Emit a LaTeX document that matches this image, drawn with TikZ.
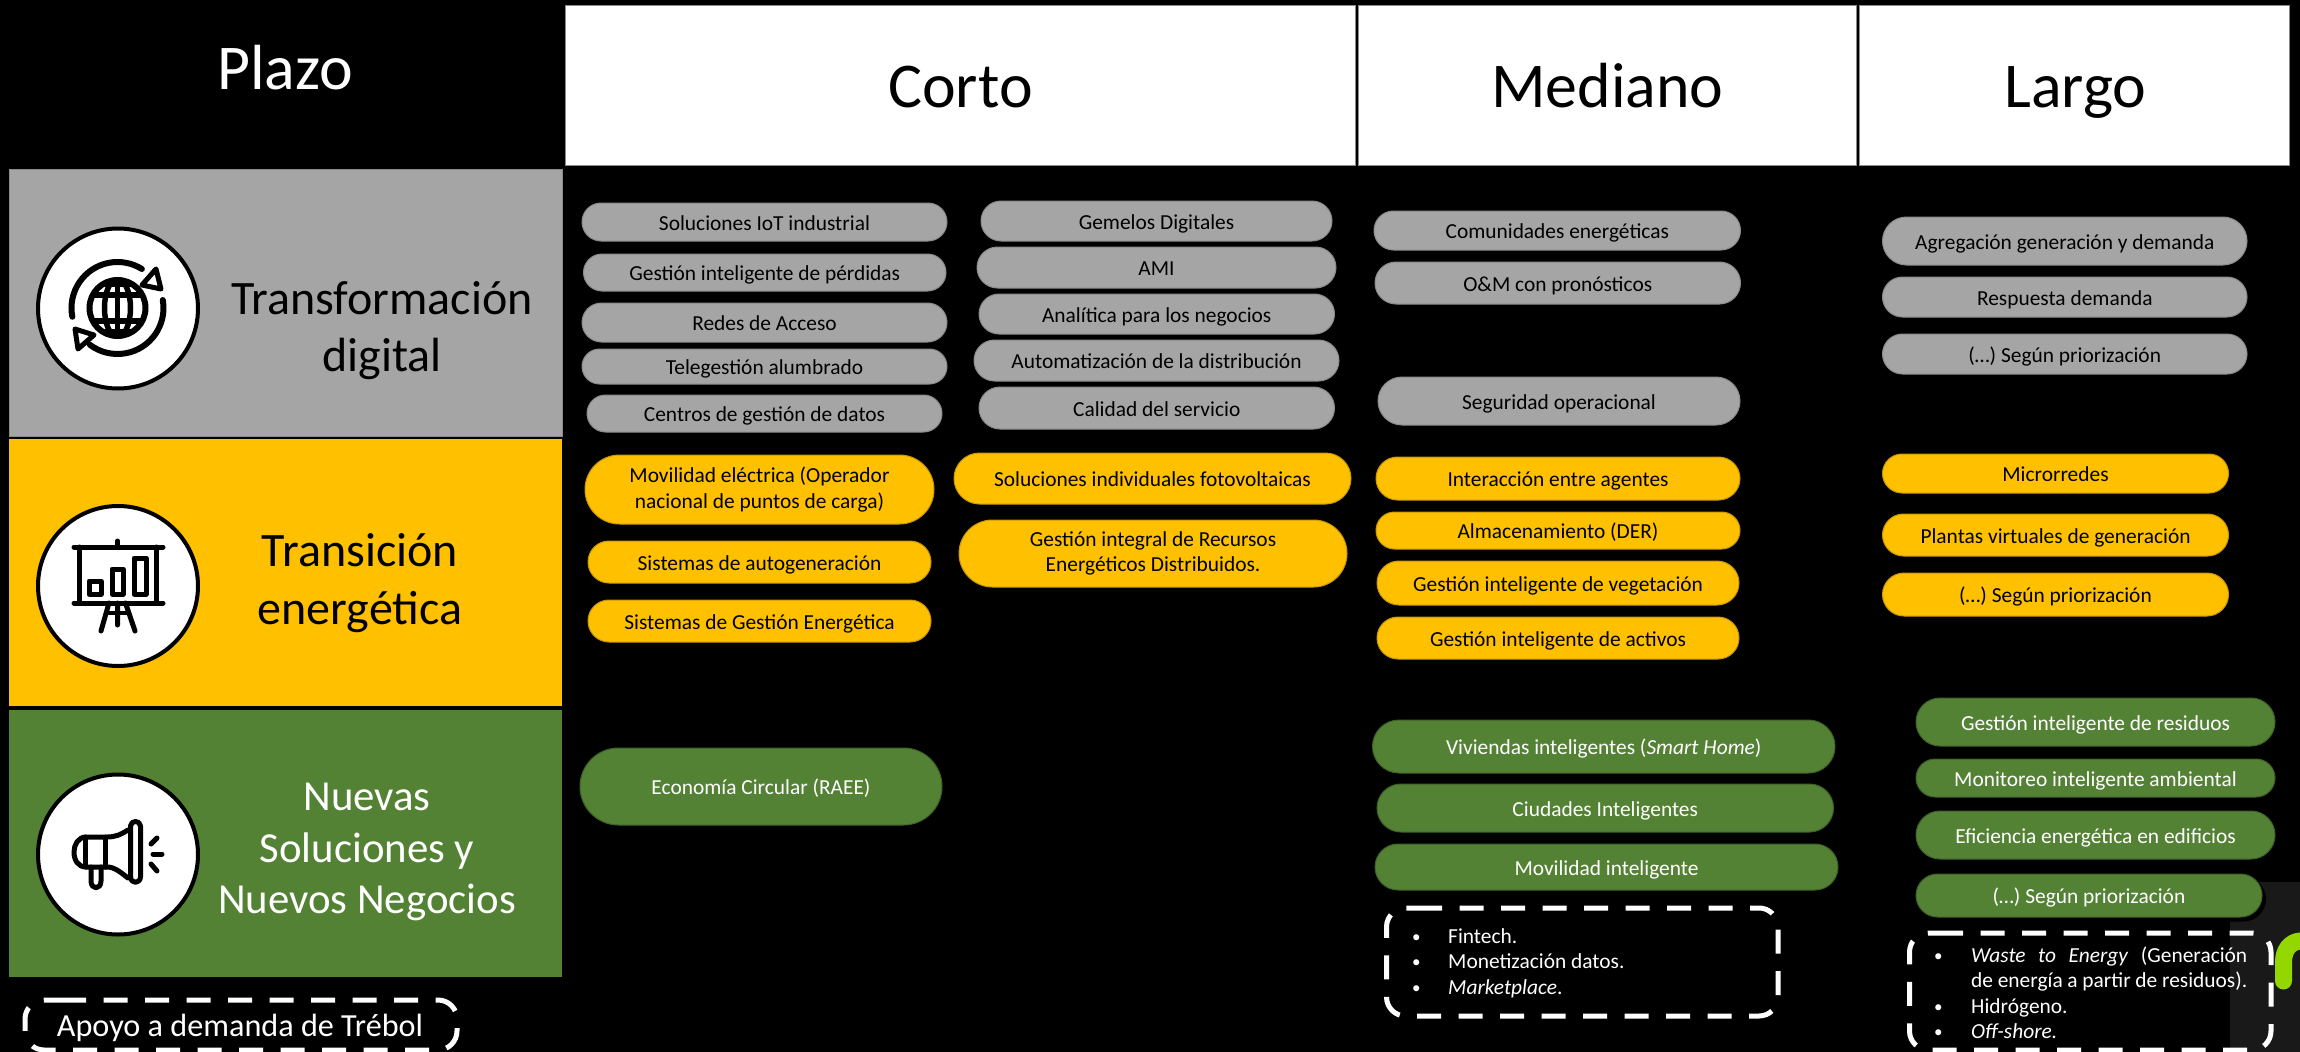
\documentclass[tikz,border=0pt]{standalone}
\usepackage{fontspec}
\setmainfont{Carlito}
\usetikzlibrary{shapes.misc}
\definecolor{cgray}{HTML}{A5A5A5}
\definecolor{cgrayd}{HTML}{8A8A8A}
\definecolor{cyel}{HTML}{FFC000}
\definecolor{cyeld}{HTML}{C99700}
\definecolor{cgrn}{HTML}{548235}
\definecolor{cgrnd}{HTML}{3E6127}
\definecolor{cdark}{HTML}{191919}
\definecolor{clime}{HTML}{94D600}
\newcommand{\sz}[2]{\fontsize{#1}{#2}\selectfont}
\tikzset{
  x=1pt,y=-1pt,
  pillbase/.style={rounded rectangle,inner sep=0pt,outer sep=0pt,line width=1pt,align=center,font=\sz{21.4}{25.5}},
  onel/.style={text height=20.5pt,text depth=4pt},
  gp/.style={pillbase,onel,fill=cgray,draw=cgrayd,text=black},
  yp/.style={pillbase,onel,fill=cyel,draw=cyeld,text=black},
  gr/.style={pillbase,onel,fill=cgrn,draw=cgrnd,text=white},
  yp2/.style={pillbase,fill=cyel,draw=cyeld,text=black},
  head/.style={rectangle,fill=white,draw=cgrayd,line width=.75pt,inner sep=0pt,outer sep=0pt},
  headtxt/.style={anchor=base,font=\sz{63.8}{70},text=black,inner sep=0pt},
  lefttxt/.style={anchor=base,font=\sz{48}{50},inner sep=0pt},
  lefttxtb/.style={anchor=base,font=\sz{42.8}{50},inner sep=0pt},
  band/.style={rectangle,inner sep=0pt,outer sep=0pt},
  iconcirc/.style={fill=white,draw=black,line width=4pt},
  ink/.style={draw=black,line width=5pt,line cap=round,line join=round},
  dashbox/.style={draw=white,line width=5pt,rounded corners=19pt,dash pattern=on 24pt off 17.5pt},
  listitem/.style={anchor=base west,font=\sz{21.4}{25},text=white,inner sep=0pt},
}
\newcommand{\pill}[7]{\node[#2,minimum width={#5pt-#3pt},minimum height={#6pt-#4pt}] (#1) at ({(#3+#5)/2},{(#4+#6)/2}) {#7};}
\newcommand{\blt}[1]{\makebox[#1pt][l]{\raisebox{1pt}{\sz{17}{17}•}}}
\begin{document}
\begin{tikzpicture}
\useasboundingbox (0,0) rectangle (2300,1052);
\fill[black] (0,0) rectangle (2300,1052);
% dark image bottom right
\fill[cdark] (2230,882) rectangle (2300,1052);
\draw[clime,line width=17pt,line cap=round] (2283.5,981) -- (2283.5,962) .. controls (2283.5,950) and (2290,942) .. (2300,941);
% headers
\node[head,minimum width=790pt,minimum height=160pt] (hcorto) at (960,85) {};
\node[head,minimum width=498pt,minimum height=160pt] (hmed) at (1607,85) {};
\node[head,minimum width=430pt,minimum height=160pt] (hlar) at (2074,85) {};
\node[headtxt,text=white] (tplazo) at (285,89) {Plazo};
\node[headtxt] (tcorto) at (960.5,107) {Corto};
\node[headtxt] (tmed) at (1607.5,107) {Mediano};
\node[headtxt] (tlar) at (2075.5,107) {Largo};
% left bands
\node[band,fill=cgray,draw=cgrayd,line width=.75pt,minimum width=553pt,minimum height=267pt] (b1) at (285.5,302.5) {};
\node[band,fill=cyel,minimum width=553pt,minimum height=267pt] (b2) at (285.5,572.5) {};
\node[band,fill=cgrn,minimum width=553pt,minimum height=267pt] (b3) at (285.5,843.5) {};
% circles
\node[circle,iconcirc,minimum size=160pt,inner sep=0pt] (c1) at (118,308.5) {};
\node[circle,iconcirc,minimum size=160pt,inner sep=0pt] (c2) at (118,586) {};
\node[circle,iconcirc,minimum size=160pt,inner sep=0pt] (c3) at (118,854.5) {};
% icon 1: globe
\begin{scope}
\clip (117.5,308) circle[radius=29pt];
\fill[white] (117.5,308) circle[radius=29pt];
\draw[black,line width=5.5pt] (117.5,308) ellipse[x radius=13pt,y radius=29pt];
\draw[black,line width=5.5pt] (117.5,279) -- (117.5,337);
\draw[black,line width=5.5pt] (88,295) -- (147,295);
\draw[black,line width=5.5pt] (88,321) -- (147,321);
\draw[black,line width=6pt] (88,284) -- (147,284);
\draw[black,line width=6pt] (88,332) -- (147,332);
\end{scope}
\draw[black,line width=6pt] (117.5,308) circle[radius=28pt];
\draw[ink,line width=6pt] (117.5,308) ++(191:46pt) arc[start angle=191,end angle=58,radius=46pt];
\draw[ink,line width=6pt] (117.5,308) ++(10:46pt) arc[start angle=10,end angle=-127,radius=46pt];
\draw[ink,fill=white,line width=5pt] (156,269) -- (161,289) -- (142,285) -- cycle;
\draw[ink,fill=white,line width=5pt] (75,329) -- (78,349) -- (94,335) -- cycle;
% icon 2: easel
\draw[ink] (74,547) -- (163,547);
\draw[ink] (74,603) -- (163,603);
\draw[ink] (117.5,541) -- (117.5,547);
\draw[ink] (79,547) -- (79,603) (156,547) -- (156,603);
\draw[ink] (89,581) rectangle (101,594);
\draw[ink] (112,569) rectangle (123,594);
\draw[ink] (134,558) rectangle (146,594);
\draw[ink] (109,603) -- (101,631) (125.5,603) -- (135,631) (117.5,603) -- (117.5,625);
\draw[ink,line width=4pt] (107,613) -- (128,613);
% icon 3: megaphone
\draw[ink] (128,830) .. controls (120,835) and (115,837) .. (107,837) -- (86,837) .. controls (78,837) and (74,845) .. (74,852) .. controls (74,860) and (78,867) .. (86,867) -- (107,867) .. controls (115,867) and (120,872) .. (128,878);
\draw[ink] (105.5,837) -- (105.5,867);
\draw[ink] (85,837) -- (85,867);
\draw[ink] (130.5,826) .. controls (131,820) and (140,820) .. (140.5,826) -- (140.5,877) .. controls (140,884) and (131,884) .. (130.5,877) -- cycle;
\draw[ink] (91,867) -- (91,881) .. controls (91,890) and (101,890) .. (101,881) -- (101,867);
\draw[ink] (157,838) -- (151,844);
\draw[ink] (153,854) -- (162,854);
\draw[ink] (151,864) -- (157,871);
% left labels
\node[lefttxt,text=black] (l1a) at (382,314.5) {Transformación};
\node[lefttxt,text=black] (l1b) at (382,371.5) {digital};
\node[lefttxt,text=black] (l2a) at (360,566.5) {Transición};
\node[lefttxt,text=black] (l2b) at (360,624.5) {energética};
\node[lefttxtb,text=white] (l3a) at (367,810.5) {Nuevas};
\node[lefttxtb,text=white] (l3b) at (367,862.5) {Soluciones y};
\node[lefttxtb,text=white] (l3c) at (367,913.5) {Nuevos Negocios};
% Corto col 1
\pill{p1}{gp}{582}{203}{947}{241}{Soluciones IoT industrial}
\pill{p2}{gp}{583.5}{254}{946}{291}{Gestión inteligente de pérdidas}
\pill{p3}{gp}{582}{303}{947}{342}{Redes de Acceso}
\pill{p4}{gp}{582}{349}{947}{384}{Telegestión alumbrado}
\pill{p5}{gp}{587}{395}{942}{432}{Centros de gestión de datos}
% Corto col 2
\pill{p6}{gp}{981}{201}{1332}{241}{Gemelos Digitales}
\pill{p7}{gp}{977}{247}{1336}{288}{AMI}
\pill{p8}{gp}{979}{294}{1334.5}{334}{Analítica para los negocios}
\pill{p9}{gp}{974}{340}{1339}{381}{Automatización de la distribución}
\pill{p10}{gp}{979}{387}{1334.5}{429}{Calidad del servicio}
% Corto yellow
\pill{p11}{yp2}{585}{455}{934}{524}{Movilidad eléctrica (Operador\\nacional de puntos de carga)}
\pill{p12}{yp}{588}{541}{931}{583}{Sistemas de autogeneración}
\pill{p13}{yp}{588}{600}{931}{642}{Sistemas de Gestión Energética}
\pill{p14}{yp}{954}{453}{1351}{504}{Soluciones individuales fotovoltaicas}
\pill{p15}{yp2}{959}{520}{1347}{587}{Gestión integral de Recursos\\Energéticos Distribuidos.}
\pill{p16}{gr}{580}{748}{942}{825}{Economía Circular (RAEE)}
% Mediano
\pill{p17}{gp}{1374}{211}{1740.5}{250}{Comunidades energéticas}
\pill{p18}{gp}{1375}{262}{1740.5}{304}{O\&M con pronósticos}
\pill{p19}{gp}{1378}{377}{1740}{425}{Seguridad operacional}
\pill{p20}{yp}{1376}{457}{1740}{500}{Interacción entre agentes}
\pill{p21}{yp}{1376}{512}{1740}{549}{Almacenamiento (DER)}
\pill{p22}{yp}{1377}{561}{1739}{605}{Gestión inteligente de vegetación}
\pill{p23}{yp}{1377}{617}{1739}{659}{Gestión inteligente de activos}
\pill{p24}{gr}{1372.5}{720}{1835}{773}{Viviendas inteligentes (\textit{Smart Home})}
\pill{p25}{gr}{1377}{784}{1833.5}{832}{Ciudades Inteligentes}
\pill{p26}{gr}{1375}{844}{1838}{890}{Movilidad inteligente}
% Largo
\pill{p27}{gp}{1882.5}{217}{2247}{265}{Agregación generación y demanda}
\pill{p28}{gp}{1882.5}{277}{2247}{317}{Respuesta demanda}
\pill{p29}{gp}{1882.5}{334}{2247}{374}{(…) Según priorización}
\pill{p30}{yp}{1882.5}{454}{2228.5}{493}{Microrredes}
\pill{p31}{yp}{1882.5}{514}{2228.5}{556}{Plantas virtuales de generación}
\pill{p32}{yp}{1882.5}{573}{2228.5}{616}{(…) Según priorización}
\pill{p33}{gr}{1916}{698}{2275}{746}{Gestión inteligente de residuos}
\pill{p34}{gr}{1916}{759}{2275}{797}{Monitoreo inteligente ambiental}
\pill{p35}{gr}{1916}{811}{2275}{859}{Eficiencia energética en edificios}
\node[rounded rectangle,fill=black,inner sep=0pt,minimum width=350pt,minimum height=45pt] (p36s) at (2091,899) {};
\pill{p36}{gr}{1916}{874}{2262}{917}{(…) Según priorización}
% Dashed boxes
\draw[dashbox] (1418,908) -- (1778,908) -- (1778,1016) -- (1386.5,1016) -- (1386.5,908) -- (1418,908);
\draw[dashbox] (1939,933) -- (2271,933) -- (2271,1050) -- (1909.5,1050) -- (1909.5,933) -- (1939,933);
\draw[dashbox] (62,1000) -- (457,1000) -- (457,1050) -- (25,1050) -- (25,1000) -- (62,1000);
% Lists
\node[listitem] (f1) at (1412,943) {\blt{36}Fintech.};
\node[listitem] (f2) at (1412,968) {\blt{36}Monetización datos.};
\node[listitem] (f3) at (1412,994) {\blt{36}\textit{Marketplace}.};
\node[listitem] (g1) at (1934,962) {\blt{37}\hbox to 276pt{\textit{Waste}\hfil\textit{to}\hfil\textit{Energy}\hfil(Generación}};
\node[listitem] (g2) at (1971,987) {\hbox to 276pt{de\hfil energía\hfil a\hfil partir\hfil de\hfil residuos).}};
\node[listitem] (g3) at (1934,1013) {\blt{37}Hidrógeno.};
\node[listitem] (g4) at (1934,1038) {\blt{37}\textit{Off-shore.}};
\node[anchor=base,font=\sz{32.2}{36},text=white,inner sep=0pt] (apoyo) at (240,1036) {Apoyo a demanda de Trébol};
\end{tikzpicture}
\end{document}
